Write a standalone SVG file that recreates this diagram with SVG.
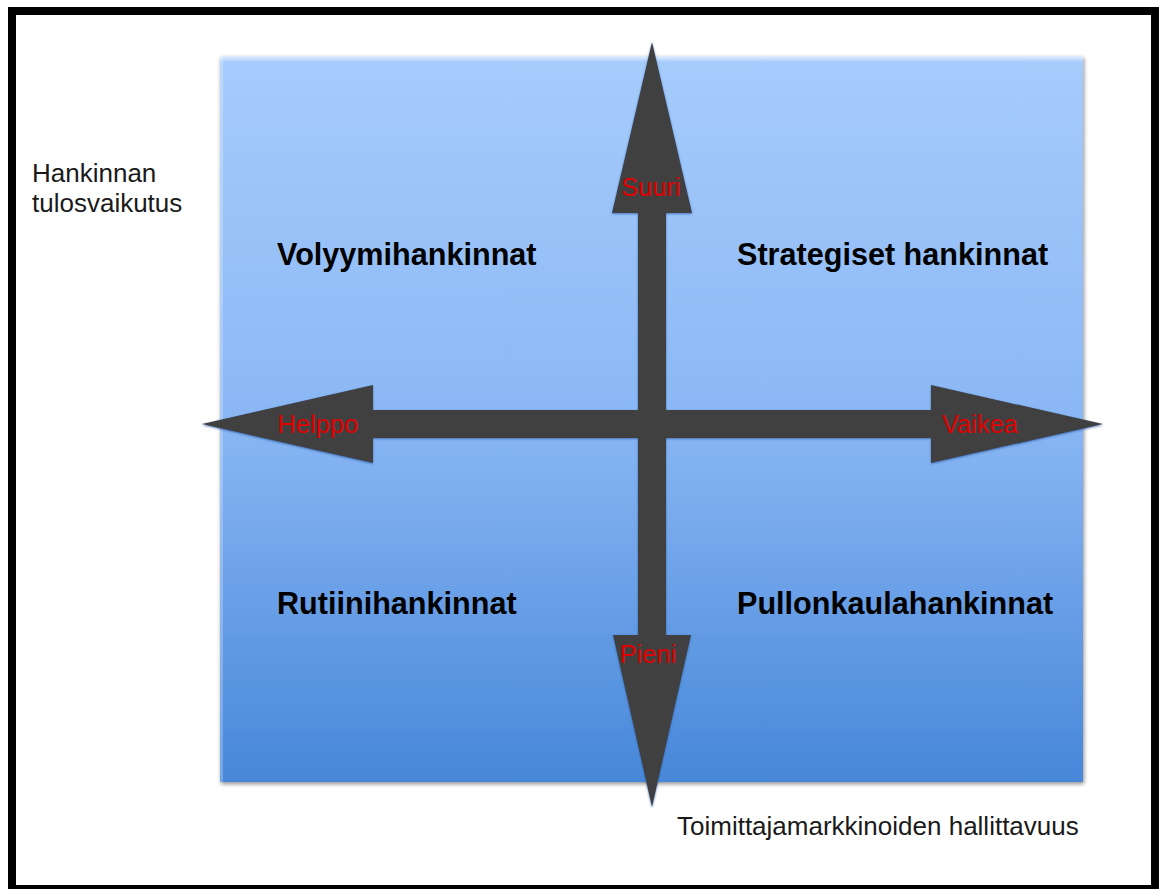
<svg xmlns="http://www.w3.org/2000/svg" width="1162" height="889" viewBox="0 0 1162 889">
  <defs>
    <linearGradient id="bg" x1="0" y1="0" x2="0" y2="1">
      <stop offset="0" stop-color="#a7ccfc"/>
      <stop offset="0.5" stop-color="#8ab7f4"/>
      <stop offset="1" stop-color="#4787d9"/>
    </linearGradient>
    <linearGradient id="bevelTop" x1="0" y1="0" x2="0" y2="1">
      <stop offset="0" stop-color="#ffffff" stop-opacity="0.7"/>
      <stop offset="1" stop-color="#ffffff" stop-opacity="0"/>
    </linearGradient>
    <filter id="shadow" x="-5%" y="-5%" width="110%" height="110%">
      <feGaussianBlur in="SourceAlpha" stdDeviation="2"/>
      <feOffset dx="1" dy="2" result="b"/>
      <feComponentTransfer><feFuncA type="linear" slope="0.45"/></feComponentTransfer>
      <feMerge><feMergeNode/><feMergeNode in="SourceGraphic"/></feMerge>
    </filter>
    <filter id="arrowGlow" x="-10%" y="-10%" width="120%" height="120%">
      <feGaussianBlur in="SourceAlpha" stdDeviation="1.2"/>
      <feOffset dx="0" dy="1" result="b"/>
      <feFlood flood-color="#2d5fa8" flood-opacity="0.8"/>
      <feComposite in2="b" operator="in"/>
      <feMerge><feMergeNode/><feMergeNode in="SourceGraphic"/></feMerge>
    </filter>
  </defs>
  <style>
    .frame { fill: #ffffff; stroke: #000000; stroke-width: 8; }
    .axis { font-family: "Liberation Sans", Arial, sans-serif; font-size: 26px; fill: #1a1a1a; }
    .quad { font-family: "Liberation Sans", Arial, sans-serif; font-size: 30.6px; font-weight: bold; fill: #000000; }
    .red { font-family: "Liberation Sans", Arial, sans-serif; font-size: 25.5px; fill: #e00000; text-anchor: middle; }
    .arrow { fill: #404040; }
  </style>

  <rect class="frame" x="12" y="11" width="1143" height="878"/>

  <g id="matrix">
    <rect x="220" y="56" width="863" height="726" fill="url(#bg)" filter="url(#shadow)"/>
    <rect x="220" y="56" width="863" height="6" fill="url(#bevelTop)"/>
    <rect x="220" y="56" width="3" height="726" fill="#ffffff" opacity="0.25"/>
  </g>

  <g id="connectors" filter="url(#arrowGlow)">
    <polygon class="arrow" points="652,42 692,213 666,213 666,424 638,424 638,213 612,213"/>
    <polygon class="arrow" points="652,807 691,635 666,635 666,424 638,424 638,635 613,635"/>
    <polygon class="arrow" points="202,424 373,385 373,410 652,410 652,438 373,438 373,463"/>
    <polygon class="arrow" points="1103,424 931,385 931,410 652,410 652,438 931,438 931,463"/>
  </g>

  <g id="y-axis-label">
    <text class="axis" x="32" y="182">Hankinnan</text>
    <text class="axis" x="32" y="212">tulosvaikutus</text>
  </g>
  <g id="x-axis-label">
    <text class="axis" x="677" y="835">Toimittajamarkkinoiden hallittavuus</text>
  </g>

  <g id="q-volyymi"><text class="quad" x="277" y="265">Volyymihankinnat</text></g>
  <g id="q-strategiset"><text class="quad" x="737" y="265">Strategiset hankinnat</text></g>
  <g id="q-rutiini"><text class="quad" x="277" y="614">Rutiinihankinnat</text></g>
  <g id="q-pullonkaula"><text class="quad" x="737" y="614">Pullonkaulahankinnat</text></g>

  <g id="label-suuri"><text class="red" x="651" y="196">Suuri</text></g>
  <g id="label-pieni"><text class="red" x="648" y="663">Pieni</text></g>
  <g id="label-helppo"><text class="red" x="318" y="433">Helppo</text></g>
  <g id="label-vaikea"><text class="red" x="980" y="433">Vaikea</text></g>
</svg>
